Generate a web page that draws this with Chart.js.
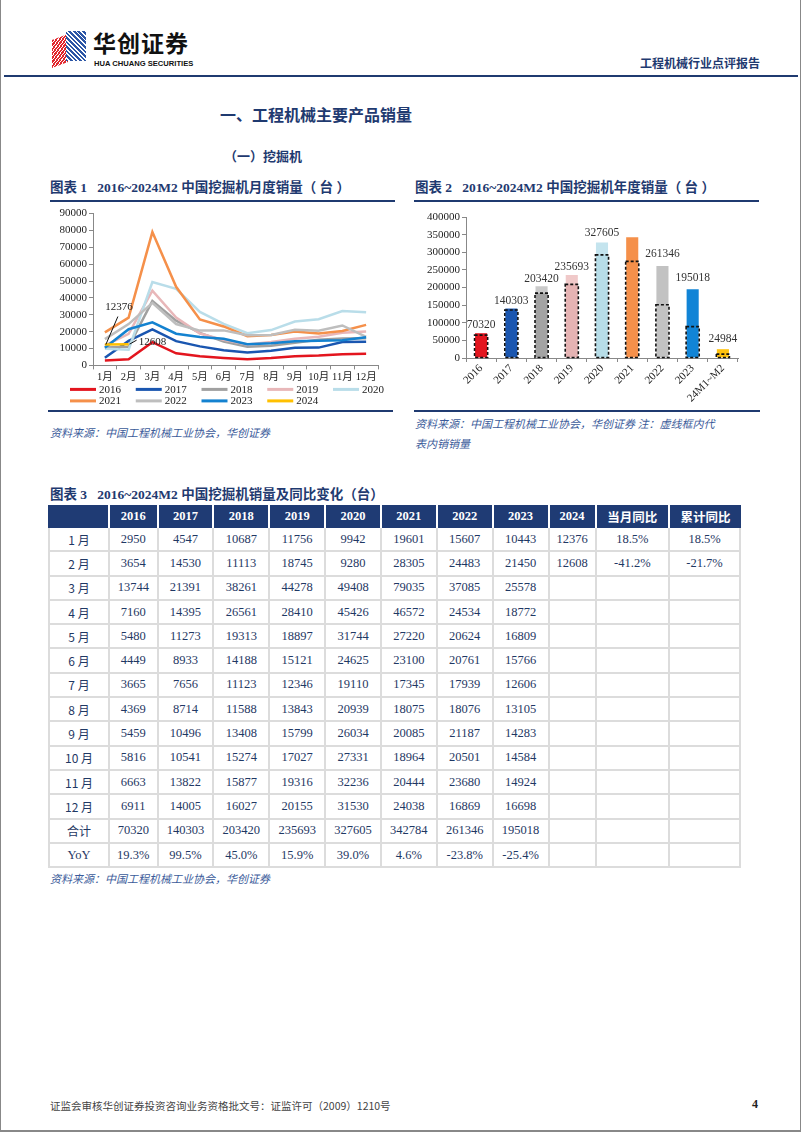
<!DOCTYPE html>
<html><head><meta charset="utf-8">
<script src="https://cdn.jsdelivr.net/npm/chart.js@4.4.1/dist/chart.umd.min.js"></script>
<style>
body{margin:0;background:#fff;}
#page{position:relative;width:802px;height:1133px;overflow:hidden;font-family:"Liberation Serif","Noto Sans CJK SC",serif;background:#fff;}
.abs{position:absolute;white-space:nowrap;}
.navy{color:#1F3A70;}
.ttl{font-size:13.5px;font-weight:bold;color:#1F3A70;}
.src{font-size:11px;font-style:italic;color:#3B5B9A;font-family:"Noto Sans CJK SC",serif;}
.hl{position:absolute;background:#1F3A70;}
table{border-collapse:separate;border-spacing:0;font-family:"Liberation Serif","Noto Sans CJK SC",serif;}
th{background:#1F3B74;color:#fff;font-weight:bold;font-size:12.5px;height:23px;padding:0;border-right:2px solid #fff;}
th:last-child{border-right:none;}
td{color:#1F3864;font-size:12.5px;height:22.3px;padding:0;text-align:center;border-right:2px solid #DCDCDC;border-bottom:2px solid #DCDCDC;}
td:first-child{border-left:2px solid #DCDCDC;}
</style></head><body>
<div id="page">
  <div class="abs" style="left:0;top:0;width:799px;height:1130px;border-left:1px solid #888;border-right:1px solid #888;border-bottom:2px solid #888;"></div>
  <!-- logo -->
  <div class="abs" style="left:52px;top:31px;width:34px;height:34px;">
    <div style="position:absolute;left:0;top:6px;width:16px;height:28px;background:repeating-linear-gradient(135deg,#E1262D 0 2px,#fff 2px 3px);transform:skewY(-20deg);"></div>
    <div style="position:absolute;left:14px;top:0;width:20px;height:30px;background:repeating-linear-gradient(45deg,#2C56A6 0 2px,#fff 2px 3.2px);"></div>
  </div>
  <div class="abs" style="left:93px;top:31px;font-size:23px;font-weight:bold;font-family:'Noto Sans CJK SC';color:#111;line-height:22px;height:22px;letter-spacing:1px;">华创证券</div>
  <div class="abs" style="left:94px;top:59.5px;font-size:7.6px;line-height:8px;height:8px;font-weight:bold;font-family:'Liberation Sans';color:#111;">HUA CHUANG SECURITIES</div>
  <div class="abs navy" style="left:640px;top:54px;font-size:12px;font-weight:bold;font-family:'Noto Sans CJK SC';">工程机械行业点评报告</div>
  <div class="hl" style="left:4px;top:75px;width:794px;height:2px;"></div>

  <div class="abs navy" style="left:220px;top:102px;font-size:16px;font-weight:bold;font-family:'Noto Sans CJK SC';">一、工程机械主要产品销量</div>
  <div class="abs navy" style="left:224px;top:146px;font-size:13px;font-weight:bold;font-family:'Noto Sans CJK SC';">（一）挖掘机</div>

  <div class="abs ttl" style="left:50px;top:176px;">图表 1&nbsp;&nbsp;&nbsp;2016~2024M2 中国挖掘机月度销量（ 台 ）</div>
  <div class="hl" style="left:50px;top:200px;width:345px;height:1.5px;"></div>
  <div class="abs ttl" style="left:415px;top:176px;">图表 2&nbsp;&nbsp;&nbsp;2016~2024M2 中国挖掘机年度销量（ 台 ）</div>
  <div class="hl" style="left:414px;top:200px;width:345px;height:1.5px;"></div>

  <canvas id="c1" class="abs" width="347" height="205" style="left:48px;top:205px;"></canvas>
  <canvas id="c2" class="abs" width="353" height="207" style="left:412px;top:203px;"></canvas>

  <div class="hl" style="left:48px;top:410px;width:345px;height:2px;"></div>
  <div class="hl" style="left:414px;top:410px;width:346px;height:2px;"></div>
  <div class="abs src" style="left:50px;top:424px;">资料来源：中国工程机械工业协会，华创证券</div>
  <div class="abs src" style="left:415px;top:413px;line-height:20px;">资料来源：中国工程机械工业协会，华创证券 注：虚线框内代<br>表内销销量</div>

  <div class="abs ttl" style="left:50px;top:483px;">图表 3&nbsp;&nbsp;&nbsp;2016~2024M2 中国挖掘机销量及同比变化（台）</div>
  <table id="tbl" class="abs" style="left:48px;top:505px;width:693px;"></table>
  <div class="abs src" style="left:50px;top:870px;">资料来源：中国工程机械工业协会，华创证券</div>

  <div class="abs" style="left:50px;top:1098px;font-size:10.5px;color:#444;font-family:'Noto Sans CJK SC';">证监会审核华创证券投资咨询业务资格批文号：证监许可（2009）1210号</div>
  <div class="abs" style="left:752px;top:1097px;font-size:12px;font-weight:bold;color:#222;">4</div>
</div>
<script>
// ---------- data ----------
const months = ['1月','2月','3月','4月','5月','6月','7月','8月','9月','10月','11月','12月'];
const seriesYears = ['2016','2017','2018','2019','2020','2021','2022','2023','2024'];
const sales2016 = [2950,3654,13744,7160,5480,4449,3665,4369,5459,5816,6663,6911];
const sales2017 = [4547,14530,21391,14395,11273,8933,7656,8714,10496,10541,13822,14005];
const sales2018 = [10687,11113,38261,26561,19313,14188,11123,11588,13408,15274,15877,16027];
const sales2019 = [11756,18745,44278,28410,18897,15121,12346,13843,15799,17027,19316,20155];
const sales2020 = [9942,9280,49408,45426,31744,24625,19110,20939,26034,27331,32236,31530];
const sales2021 = [19601,28305,79035,46572,27220,23100,17345,18075,20085,18964,20444,24038];
const sales2022 = [15607,24483,37085,24534,20624,20761,17939,18076,21187,20501,23680,16869];
const sales2023 = [10443,21450,25578,18772,16809,15766,12606,13105,14283,14584,14924,16698];
const sales2024 = [12376,12608];
const yearCats = ['2016','2017','2018','2019','2020','2021','2022','2023','24M1~M2'];
const totalSales = [70320,140303,203420,235693,327605,342784,261346,195018,24984];
const domesticSales = [65000,136000,184000,209000,292600,274000,151000,89000,11100];
const totalRow = [70320,140303,203420,235693,327605,342784,261346,195018];
const yoyRow = ['19.3%','99.5%','45.0%','15.9%','39.0%','4.6%','-23.8%','-25.4%'];
const monthYoY = ['18.5%','-41.2%'];
const cumYoY = ['18.5%','-21.7%'];

// ---------- styles ----------
const allSeries = [sales2016,sales2017,sales2018,sales2019,sales2020,sales2021,sales2022,sales2023,sales2024];
const lineColors = ['#E3151E','#1A56B0','#A0A0A0','#E8B7B9','#B9DDE9','#F5904A','#BEBEBE','#1482D0','#FFC000'];
const barColors = ['#E3151E','#1A56B0','#CACACA','#F0C9C9','#C4E4EE','#F5904A','#C2C2C2','#1184D6','#FFC20E'];
const domColors = ['rgba(0,0,0,0)','rgba(0,0,0,0)','#A3A3A3','#E5B3B3','#B7DDE8','rgba(0,0,0,0)','rgba(0,0,0,0)','rgba(0,0,0,0)','rgba(0,0,0,0)'];
const labelLift = [2,2,2,2,4,34,6,6,4];

Chart.defaults.font.family = '"Liberation Serif","Noto Sans CJK SC",serif';
Chart.defaults.font.size = 11;
Chart.defaults.color = '#222';

// ---------- table ----------
(function(){
  const t = document.getElementById('tbl');
  let h = '<tr><th style="width:60px"></th>';
  seriesYears.forEach(y=>{h+='<th>'+y+'</th>';});
  h += '<th style="font-family:Noto Sans CJK SC">当月同比</th><th style="font-family:Noto Sans CJK SC">累计同比</th></tr>';
  months.forEach((m,i)=>{
    h += '<tr><td style="font-family:Noto Sans CJK SC;font-size:12px">'+m.replace('月',' 月')+'</td>';
    allSeries.slice(0,8).forEach(s=>{h+='<td>'+s[i]+'</td>';});
    h += '<td>'+(sales2024[i]!==undefined?sales2024[i]:'')+'</td>';
    h += '<td>'+(monthYoY[i]||'')+'</td><td>'+(cumYoY[i]||'')+'</td></tr>';
  });
  h += '<tr><td style="font-family:Noto Sans CJK SC;font-size:12px">合计</td>';
  totalRow.forEach(v=>{h+='<td>'+v+'</td>';});
  h += '<td></td><td></td><td></td></tr>';
  h += '<tr><td>YoY</td>';
  yoyRow.forEach(v=>{h+='<td>'+v+'</td>';});
  h += '<td></td><td></td><td></td></tr>';
  t.innerHTML = h;
})();

// ---------- chart 1 ----------
const legendPlugin1 = {
  id:'legend1',
  afterDraw(chart){
    const ctx = chart.ctx, ca = chart.chartArea;
    ctx.save();
    ctx.font = '11px "Liberation Serif"';
    ctx.textBaseline = 'middle';
    chart.data.datasets.forEach((ds,i)=>{
      const col = i%5, row = Math.floor(i/5);
      const x = ca.left - 23 + col*65.75;
      const y = ca.bottom + 24 + row*11.5;
      ctx.fillStyle = ds.borderColor;
      ctx.fillRect(x, y-1.5, 26, 3);
      ctx.fillStyle = '#222';
      ctx.fillText(ds.label, x+29, y+0.5);
    });
    ctx.restore();
  }
};
const annotPlugin1 = {
  id:'annot1',
  afterDraw(chart){
    const ctx = chart.ctx, xs = chart.scales.x, ys = chart.scales.y;
    ctx.save();
    ctx.strokeStyle = '#111'; ctx.lineWidth = 1;
    ctx.font = '11px "Liberation Serif"'; ctx.fillStyle = '#222'; ctx.textBaseline = 'middle';
    let px = xs.getPixelForValue(0), py = ys.getPixelForValue(sales2024[0]);
    ctx.beginPath(); ctx.moveTo(px+1, py); ctx.lineTo(px+13, py-28); ctx.stroke();
    ctx.textAlign = 'center'; ctx.fillText(String(sales2024[0]), px+14, py-37);
    px = xs.getPixelForValue(1); py = ys.getPixelForValue(sales2024[1]);
    ctx.beginPath(); ctx.moveTo(px+1, py); ctx.lineTo(px+8, py-4); ctx.stroke();
    ctx.textAlign = 'left'; ctx.fillText(String(sales2024[1]), px+10, py-2);
    ctx.restore();
  }
};
const plainNum = v => String(v);
new Chart(document.getElementById('c1'), {
  type:'line',
  data:{labels:months, datasets: allSeries.map((d,i)=>({label:seriesYears[i], data:d, borderColor:lineColors[i], backgroundColor:lineColors[i], borderWidth:2.5, pointRadius:0, tension:0, order:9-i}))},
  options:{
    responsive:false, animation:false,
    layout:{padding:{left:0,right:17,top:5,bottom:24}},
    plugins:{legend:{display:false}, tooltip:{enabled:false}},
    scales:{
      x:{offset:true, grid:{display:true, drawOnChartArea:false, offset:true, tickLength:4, color:'#888'}, border:{color:'#888'},
         ticks:{padding:2, maxRotation:0, autoSkip:false, color:'#222', font:{size:10.5}}},
      y:{min:0, max:90000, grid:{drawOnChartArea:false, tickLength:4, color:'#888'}, border:{color:'#888'},
         ticks:{stepSize:10000, padding:2, color:'#222', callback:plainNum}, afterFit(s){s.width=45;}}
    }
  },
  plugins:[legendPlugin1, annotPlugin1]
});

// ---------- chart 2 ----------
const dashPlugin = {
  id:'dash2',
  afterDatasetsDraw(chart){
    const ctx = chart.ctx;
    const metaTot = chart.getDatasetMeta(0), metaDom = chart.getDatasetMeta(1);
    ctx.save();
    ctx.setLineDash([3,2]); ctx.lineWidth = 1.6; ctx.strokeStyle = '#111';
    metaDom.data.forEach(el=>{
      const w = el.width + 1;
      ctx.strokeRect(el.x - w/2, el.y, w, el.base - el.y);
    });
    ctx.setLineDash([]);
    ctx.font = '11.5px "Liberation Serif"'; ctx.fillStyle = '#333'; ctx.textAlign = 'center'; ctx.textBaseline = 'bottom';
    metaTot.data.forEach((el,i)=>{
      ctx.fillText(String(totalSales[i]), el.x, el.y - labelLift[i]);
    });
    ctx.restore();
  }
};
new Chart(document.getElementById('c2'), {
  type:'bar',
  data:{labels:yearCats, datasets:[
    {label:'销量', data:totalSales, backgroundColor:barColors, borderWidth:0, grouped:false, order:1, barPercentage:0.4, categoryPercentage:1},
    {label:'内销', data:domesticSales, backgroundColor:domColors, borderWidth:0, grouped:false, order:0, barPercentage:0.4, categoryPercentage:1}
  ]},
  options:{
    responsive:false, animation:false,
    layout:{padding:{left:0,right:27,top:14,bottom:0}},
    plugins:{legend:{display:false}, tooltip:{enabled:false}},
    scales:{
      x:{grid:{display:true, drawOnChartArea:false, offset:true, tickLength:4, color:'#888'}, border:{color:'#888'},
         ticks:{minRotation:45, maxRotation:45, padding:0, autoSkip:false, color:'#222'}, afterFit(s){s.height=52;}},
      y:{min:0, max:400000, grid:{drawOnChartArea:false, tickLength:4, color:'#888'}, border:{color:'#888'},
         ticks:{stepSize:50000, padding:2, color:'#222', callback:plainNum}, afterFit(s){s.width=54;}}
    }
  },
  plugins:[dashPlugin]
});
</script>
</body></html>
